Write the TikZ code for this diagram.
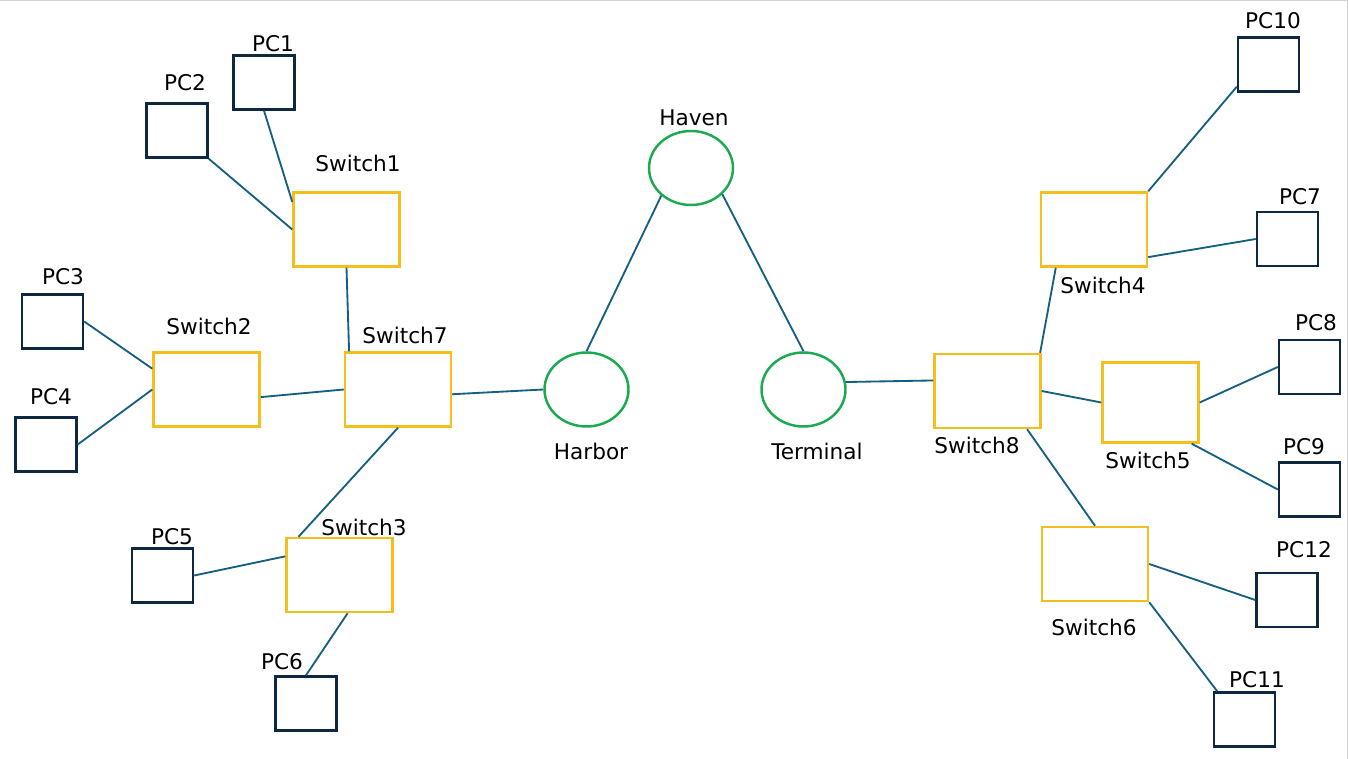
\documentclass[tikz,border=0pt]{standalone}
\usepackage{fontspec}
\setmainfont{DejaVu Sans}
\usetikzlibrary{shapes, positioning}
\definecolor{pcline}{HTML}{0E2841}
\definecolor{swline}{HTML}{F4BE1E}
\definecolor{hubline}{HTML}{1AAB50}
\definecolor{wire}{HTML}{156082}
\tikzstyle{pcbox} = [rectangle, minimum width=1.22cm, minimum height=1.08cm, draw=pcline, line width=1.4pt]
\tikzstyle{swbox} = [rectangle, minimum width=2.12cm, minimum height=1.48cm, draw=swline, line width=1.4pt]
\tikzstyle{hub} = [ellipse, minimum width=1.68cm, minimum height=1.48cm, draw=hubline, line width=1.4pt]
\tikzstyle{lbl} = [font=\fontsize{12.3}{14}\selectfont, inner sep=0pt]
\tikzstyle{link} = [draw=wire, line width=1.05pt]

\begin{document}
\begin{tikzpicture}[x=0.02cm, y=-0.02cm]
   \useasboundingbox (0,0) rectangle (1348,759);
   \draw [gray!35, line width=0.6pt] (0,0.5) -- (1347.5,0.5) -- (1347.5,759);

   \node (pc1) [pcbox] at (264,82.5) {};
   \node (pc2) [pcbox] at (177,130.5) {};
   \node (pc3) [pcbox] at (52.5,321.5) {};
   \node (pc4) [pcbox] at (46,444.5) {};
   \node (pc5) [pcbox] at (162.5,575.5) {};
   \node (pc6) [pcbox] at (306,703.5) {};
   \node (pc10) [pcbox] at (1268.5,64.5) {};
   \node (pc7) [pcbox] at (1287.5,239) {};
   \node (pc8) [pcbox] at (1309.5,367) {};
   \node (pc9) [pcbox] at (1309.5,489.5) {};
   \node (pc12) [pcbox] at (1287,600) {};
   \node (pc11) [pcbox] at (1244.5,719.5) {};

   \node (sw1) [swbox] at (346.5,229.5) {};
   \node (sw2) [swbox] at (206.5,389.5) {};
   \node (sw7) [swbox] at (398,389.5) {};
   \node (sw3) [swbox] at (339.5,575) {};
   \node (sw4) [swbox] at (1094,229.5) {};
   \node (sw8) [swbox] at (987.5,391) {};
   \node (sw5) [swbox, minimum width=1.92cm, minimum height=1.6cm] at (1150.5,402.5) {};
   \node (sw6) [swbox] at (1095,564) {};

   \node (haven) [hub] at (691,168) {};
   \node (harbor) [hub] at (586.5,389.5) {};
   \node (terminal) [hub] at (803.5,389.5) {};

   \node (pc1l) [lbl] at (273,44) {PC1};
   \node (pc2l) [lbl] at (185,83) {PC2};
   \node (pc3l) [lbl] at (63,277) {PC3};
   \node (pc4l) [lbl] at (51,397) {PC4};
   \node (pc5l) [lbl] at (172,537) {PC5};
   \node (pc6l) [lbl] at (282,662) {PC6};
   \node (pc10l) [lbl] at (1273,21) {PC10};
   \node (pc7l) [lbl] at (1300,197) {PC7};
   \node (pc8l) [lbl] at (1316,323) {PC8};
   \node (pc9l) [lbl] at (1304,447) {PC9};
   \node (pc12l) [lbl] at (1304,550) {PC12};
   \node (pc11l) [lbl] at (1257,680) {PC11};
   \node (sw1l) [lbl] at (358,163) {Switch1};
   \node (sw2l) [lbl] at (209,326) {Switch2};
   \node (sw7l) [lbl] at (405,335) {Switch7};
   \node (sw3l) [lbl] at (364,527) {Switch3};
   \node (sw4l) [lbl] at (1103,285) {Switch4};
   \node (sw8l) [lbl] at (977,445) {Switch8};
   \node (sw5l) [lbl] at (1148,460) {Switch5};
   \node (sw6l) [lbl] at (1094,627) {Switch6};
   \node (havenl) [lbl] at (694,118) {Haven};
   \node (harborl) [lbl] at (591,451) {Harbor};
   \node (terminall) [lbl] at (817,451) {Terminal};

   \draw [link] (pc1.south) -- (sw1.153);
   \draw [link] (pc2.south east) -- (sw1.west);
   \draw [link] (sw1.south) -- (sw7.142);
   \draw [link] (pc3.east) -- (sw2.159);
   \draw [link] (pc4.east) -- (sw2.west);
   \draw [link] (sw2.-8) -- (sw7.west);
   \draw [link] (sw7.-5) -- (harbor.west);
   \draw [link] (sw7.south) -- (sw3.137);
   \draw [link] (pc5.east) -- (sw3.161);
   \draw [link] (sw3.-78) -- (pc6.north);
   \draw [link] (harbor.north) -- (haven.223);
   \draw [link] (haven.320) -- (terminal.north);
   \draw [link] (terminal.10) -- (sw8.169);
   \draw [link] (sw8.36) -- (sw4.225);
   \draw [link] (sw4.north east) -- (pc10.215);
   \draw [link] (sw4.-27) -- (pc7.west);
   \draw [link] (sw8.east) -- (sw5.west);
   \draw [link] (sw5.east) -- (pc8.west);
   \draw [link] (sw5.-45) -- (pc9.west);
   \draw [link] (sw8.-44) -- (sw6.north);
   \draw [link] (sw6.east) -- (pc12.west);
   \draw [link] (sw6.south east) -- (pc11.134);
\end{tikzpicture}
\end{document}
